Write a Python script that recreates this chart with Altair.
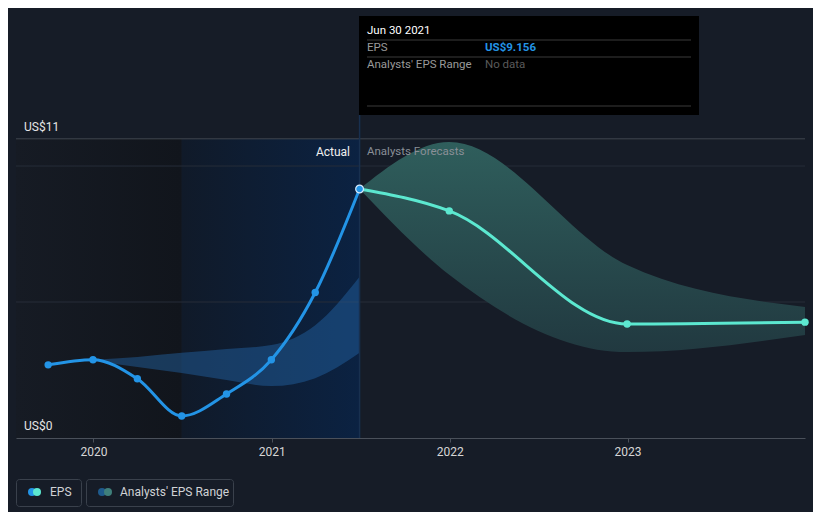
import altair as alt
import pandas as pd

# ---------------- data ----------------
act_dates = ["2019-09-30", "2019-12-31", "2020-03-31", "2020-06-30",
             "2020-09-30", "2020-12-31", "2021-03-31", "2021-06-30"]
act_eps = [2.69, 2.88, 2.18, 0.81, 1.62, 2.88, 5.35, 9.156]

past_dates = ["2019-12-31", "2020-03-31", "2020-06-30", "2020-09-30",
              "2020-12-31", "2021-03-31", "2021-06-30"]
past_hi = [2.88, 2.98, 3.13, 3.27, 3.42, 4.15, 5.93]
past_lo = [2.84, 2.61, 2.39, 2.13, 1.91, 2.20, 3.13]

fc_dates = ["2021-06-30", "2021-12-31", "2022-12-31", "2023-12-31"]
fc_eps = [9.156, 8.35, 4.19, 4.26]
fc_hi = [9.156, 10.88, 6.36, 4.82]
fc_lo = [9.156, 6.00, 3.16, 3.79]

region_dark = ["2019-07-26", "2020-06-30"]
region_actual = ["2020-06-30", "2021-06-30"]
grid_values = [5, 10]
top_value = [11]
year_ticks = [2020, 2021, 2022, 2023]

# ---------------- colours ----------------
BG = "#161c27"
EPS_BLUE = "#2394e6"
FC_TEAL = "#5ce8d0"
FONT = "Roboto"

act_df = pd.DataFrame({"date": act_dates, "eps": act_eps})
past_df = pd.DataFrame({"date": past_dates, "hi": past_hi, "lo": past_lo})
fc_df = pd.DataFrame({"date": fc_dates, "eps": fc_eps, "hi": fc_hi, "lo": fc_lo})
last_df = act_df.tail(1)

x_scale = alt.Scale(type="utc",
                    domain=[alt.DateTime(year=2019, month=7, date=26, utc=True),
                            alt.DateTime(year=2023, month=12, date=31, utc=True)])
x_axis = alt.Axis(values=[alt.DateTime(year=y, month=1, date=1, utc=True) for y in year_ticks],
                  format="%Y", title=None, grid=False, domainColor="#4a505a",
                  tickColor="#4a505a", tickSize=4, labelColor="#d6d6d6",
                  labelFontSize=12, labelPadding=4, labelFont=FONT)
y_scale = alt.Scale(domain=[0, 15.81], nice=False, zero=False)


def X(field):
    return alt.X(field, type="temporal", scale=x_scale, axis=x_axis)


def Y(field):
    return alt.Y(field, type="quantitative", scale=y_scale, axis=None)


def grad_h(c0, c1):
    return alt.LinearGradient(gradient="linear", x1=0, x2=1, y1=0, y2=0,
                              stops=[alt.GradientStop(offset=0, color=c0),
                                     alt.GradientStop(offset=1, color=c1)])


def grad_v(c0, c1):
    return alt.LinearGradient(gradient="linear", x1=0, x2=0, y1=0, y2=1,
                              stops=[alt.GradientStop(offset=0, color=c0),
                                     alt.GradientStop(offset=1, color=c1)])


dark_df = pd.DataFrame({"start": [region_dark[0]], "end": [region_dark[1]], "lo": [0], "hi": top_value})
actual_df = pd.DataFrame({"start": [region_actual[0]], "end": [region_actual[1]], "lo": [0], "hi": top_value})

dark_rect = alt.Chart(dark_df).mark_rect(fill=grad_h("#161b24", "#11151c")).encode(
    x=X("start"), x2="end", y=Y("lo"), y2="hi")
actual_rect = alt.Chart(actual_df).mark_rect(fill=grad_h("#101a29", "#0b2242")).encode(
    x=X("start"), x2="end", y=Y("lo"), y2="hi")

grid = alt.Chart(pd.DataFrame({"v": grid_values})).mark_rule(color="#262d38", strokeWidth=1).encode(
    y=Y("v"))
top_rule = alt.Chart(pd.DataFrame({"v": top_value})).mark_rule(color="#41464f", strokeWidth=1).encode(
    y=Y("v"))

past_band = alt.Chart(past_df).mark_area(interpolate="monotone", color="#2466a8", opacity=0.45).encode(
    x=X("date"), y=Y("hi"), y2="lo")
fc_band = alt.Chart(fc_df).mark_area(interpolate="monotone",
                                     fill=grad_v("#2f5e5c", "#213940")).encode(
    x=X("date"), y=Y("hi"), y2="lo")

vline = alt.Chart(last_df).mark_rule(color="#18304f", strokeWidth=1.5).encode(
    x=X("date"), y=alt.value(107), y2=alt.value(430))

act_line = alt.Chart(act_df).mark_line(interpolate="monotone", color=EPS_BLUE, strokeWidth=3).encode(
    x=X("date"), y=Y("eps"))
act_pts = alt.Chart(act_df).mark_circle(color=EPS_BLUE, size=55, opacity=1).encode(
    x=X("date"), y=Y("eps"))
fc_line = alt.Chart(fc_df).mark_line(interpolate="monotone", color=FC_TEAL, strokeWidth=3).encode(
    x=X("date"), y=Y("eps"))
fc_pts = alt.Chart(fc_df.iloc[1:]).mark_circle(color=FC_TEAL, size=55, opacity=1).encode(
    x=X("date"), y=Y("eps"))
last_pt = alt.Chart(last_df).mark_point(filled=True, fill=EPS_BLUE, stroke="#d6ebff",
                                        strokeWidth=1.2, size=60, opacity=1).encode(
    x=X("date"), y=Y("eps"))


def txt(s, x, y, color="#e6e6e6", size=12, align="left", weight="normal"):
    return alt.Chart(pd.DataFrame({"t": [s]})).mark_text(
        align=align, baseline="middle", color=color, fontSize=size, font=FONT,
        fontWeight=weight).encode(x=alt.value(x), y=alt.value(y), text="t:N")


def box(x0, x1, y0, y1, fill="transparent", stroke=None, radius=0):
    kw = dict(fill=fill, cornerRadius=radius)
    if stroke:
        kw.update(stroke=stroke, strokeWidth=1)
    return alt.Chart(pd.DataFrame({"a": [0]})).mark_rect(**kw).encode(
        x=alt.value(x0), x2=alt.value(x1), y=alt.value(y0), y2=alt.value(y1))


def hline(x0, x1, y, color):
    return alt.Chart(pd.DataFrame({"a": [0]})).mark_rule(color=color, strokeWidth=1).encode(
        x=alt.value(x0), x2=alt.value(x1), y=alt.value(y))


def dot(x, y, color, size=64):
    return alt.Chart(pd.DataFrame({"a": [0]})).mark_circle(color=color, size=size, opacity=1).encode(
        x=alt.value(x), y=alt.value(y))


labels = [
    txt("US$11", 8, 119, size=12),
    txt("US$0", 8, 418, size=12),
    txt("Actual", 334, 144, color="#f0f0f0", align="right"),
    txt("Analysts Forecasts", 351, 144, color="#8a8f97", size=11.5),
]

tooltip = [
    box(343, 683, 8, 107, fill="#000000"),
    txt("Jun 30 2021", 351, 23, color="#ffffff", size=11.5),
    hline(351, 675, 32, "#3a3a3a"),
    txt("EPS", 351, 40, color="#9a9a9a", size=11.5),
    txt("US$9.156", 469, 40, color=EPS_BLUE, size=11.5, weight="bold"),
    hline(351, 675, 49, "#3a3a3a"),
    txt("Analysts' EPS Range", 351, 57, color="#9a9a9a", size=11.5),
    txt("No data", 469, 57, color="#5a5a5a", size=11.5),
    hline(351, 675, 98, "#3a3a3a"),
]

legend = [
    box(0.5, 65.5, 471.5, 498.5, stroke="#3a414c", radius=3),
    box(70.5, 217.5, 471.5, 498.5, stroke="#3a414c", radius=3),
    dot(16, 484, EPS_BLUE),
    dot(21, 484, FC_TEAL),
    txt("EPS", 34, 484, color="#d0d2d5"),
    dot(86, 484, "#1e5a8c"),
    dot(92, 484, "#3f7f7b"),
    txt("Analysts' EPS Range", 104, 484, color="#d0d2d5"),
]

chart = alt.layer(
    dark_rect, actual_rect, grid, top_rule, past_band, fc_band, vline,
    act_line, fc_line, act_pts, fc_pts, last_pt,
    *labels, *tooltip, *legend
).properties(
    width=789, height=430,
    padding={"left": 8, "top": 0, "right": 8, "bottom": 74},
    autosize=alt.AutoSizeParams(type="none"),
    background=BG,
).configure_view(stroke=None).configure_axis(labelFont=FONT)

chart.save("out.html", embed_options={"renderer": "svg", "actions": False})
